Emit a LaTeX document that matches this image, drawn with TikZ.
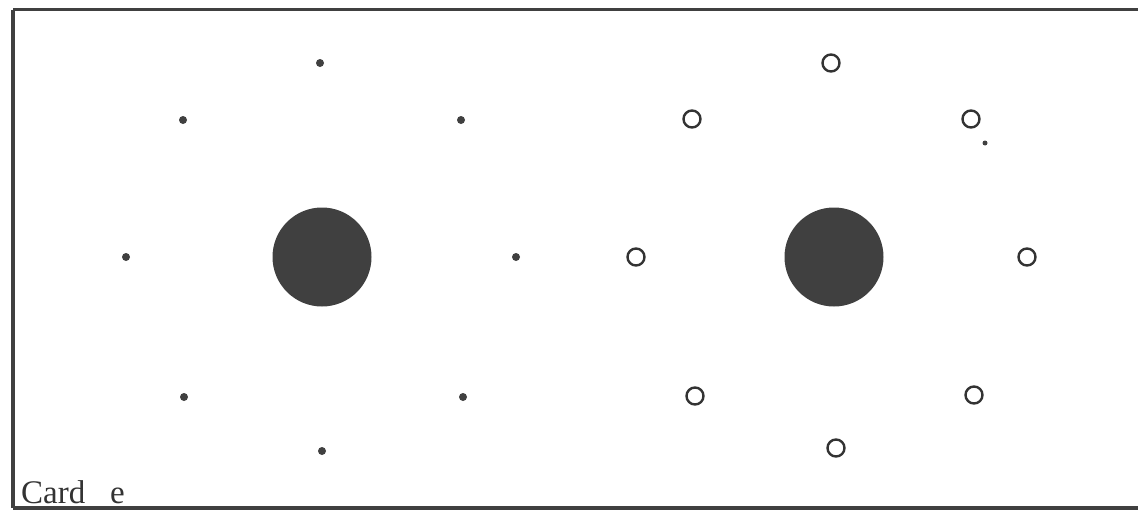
\documentclass[tikz,border=0pt]{standalone}
\usepackage{fontspec}
\setmainfont{Liberation Serif}
\begin{document}
\begin{tikzpicture}[x=1pt,y=-1pt,
  bigdot/.style={circle,fill=black!75,inner sep=0pt,minimum size=99pt},
  smalldot/.style={circle,fill=black!75,inner sep=0pt,minimum size=8pt},
  tinydot/.style={circle,fill=black!75,inner sep=0pt,minimum size=5pt},
  ring/.style={circle,draw=black!80,line width=2.4pt,inner sep=0pt,minimum size=17pt},
  frame/.style={draw=black!75,line width=3.2pt}]
\useasboundingbox (0,0) rectangle (1138,512);
\draw[frame] (13,9.5) -- (1145,9.5);
\draw[frame] (13,9.5) -- (13,508);
\draw[frame] (13,508) -- (1145,508);
% left group
\node[bigdot] (L) at (322,257) {};
\node[smalldot] (l1) at (320,63) {};
\node[smalldot] (l2) at (183,120) {};
\node[smalldot] (l3) at (461,120) {};
\node[smalldot] (l4) at (126,257) {};
\node[smalldot] (l5) at (516,257) {};
\node[smalldot] (l6) at (184,397) {};
\node[smalldot] (l7) at (463,397) {};
\node[smalldot] (l8) at (322,451) {};
% right group
\node[bigdot] (R) at (834,257) {};
\node[ring] (r1) at (831,63) {};
\node[ring] (r2) at (692,119) {};
\node[ring] (r3) at (971,119) {};
\node[ring] (r4) at (636,257) {};
\node[ring] (r5) at (1027,257) {};
\node[ring] (r6) at (695,396) {};
\node[ring] (r7) at (974,395) {};
\node[ring] (r8) at (836,448) {};
\node[tinydot] (t) at (985,143) {};
% label
\node[anchor=base west,inner sep=0pt,font=\fontsize{33}{33}\selectfont,text=black!80] (lab) at (21,503) {Card\hspace{0.75em}e};
\end{tikzpicture}
\end{document}
